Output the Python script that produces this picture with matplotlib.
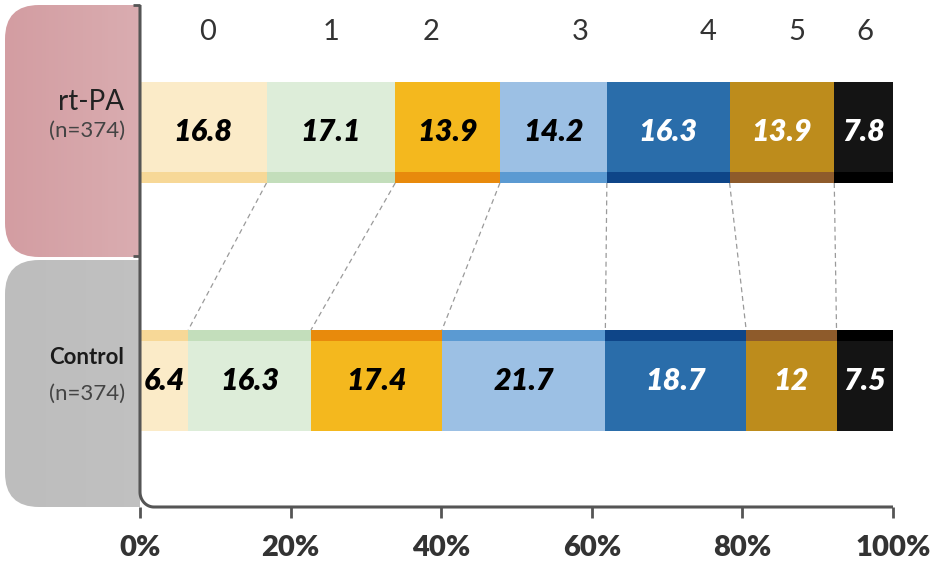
import numpy as np
import matplotlib.pyplot as plt
from matplotlib.patches import FancyBboxPatch
from matplotlib.colors import LinearSegmentedColormap

groups = ["rt-PA", "Control"]
group_n = ["(n=374)", "(n=374)"]
rtpa = [16.8, 17.1, 13.9, 14.2, 16.3, 13.9, 7.8]
control = [6.4, 16.3, 17.4, 21.7, 18.7, 12, 7.5]
scores = ["0", "1", "2", "3", "4", "5", "6"]
score_pos = [9.0, 25.4, 38.6, 58.4, 75.5, 87.2, 96.3]
xticks = [0, 20, 40, 60, 80, 100]

main_colors = ["#FBEBC8", "#DDEDD9", "#F4B81E", "#9CC0E4", "#2A6DAA", "#BD8C1C", "#141414"]
strip_colors = ["#F7D897", "#C3DEBB", "#E88A0C", "#5B9AD2", "#0E4588", "#8E5B2B", "#000000"]
text_colors = ["black", "black", "black", "black", "white", "white", "white"]

W, H = 933, 574
fig = plt.figure(figsize=(W / 100, H / 100), dpi=100)

# background axes for the group boxes
bg = fig.add_axes([0, 0, 1, 1])
bg.set_xlim(0, W)
bg.set_ylim(H, 0)
bg.axis("off")


def side_box(y0, y1, cleft, cright):
    box = FancyBboxPatch((5, y0), 200, y1 - y0, boxstyle="round,pad=0,rounding_size=34",
                         facecolor="none", edgecolor="none")
    bg.add_patch(box)
    grad = np.linspace(0, 1, 64).reshape(1, -1)
    cmap = LinearSegmentedColormap.from_list("g", [cleft, cright])
    im = bg.imshow(grad, extent=(5, 205, y1, y0), aspect="auto", cmap=cmap, zorder=1)
    im.set_clip_path(box)


side_box(5, 257, "#D39DA2", "#DDB4B7")
side_box(260, 507, "#BDBDBD", "#C2C2C2")
bg.set_xlim(0, W)
bg.set_ylim(H, 0)

bg.text(124, 102, groups[0], ha="right", va="center", fontsize=20, color="#222222",
        family="Lato")
bg.text(125, 131, group_n[0], ha="right", va="center", fontsize=16, color="#444444",
        family="Lato")
bg.text(124, 358, groups[1], ha="right", va="center", fontsize=16, color="#1a1a1a",
        family="Lato", fontweight="bold")
bg.text(125, 394, group_n[1], ha="right", va="center", fontsize=16, color="#444444",
        family="Lato")

# main chart axes
ax = fig.add_axes([140 / W, 1 - 507 / H, 753 / W, 502 / H])
ax.set_facecolor("white")
ax.set_xlim(0, 100)
ax.set_ylim(-0.51, 1.514)

bar_h = 0.407
strip_h = 0.045
ypos = [1, 0]
for row, (vals, y) in enumerate(zip([rtpa, control], ypos)):
    left = 0
    for i, v in enumerate(vals):
        ax.barh(y, v, left=left, height=bar_h, color=main_colors[i], edgecolor="none", zorder=2)
        if row == 0:
            sy = y - bar_h / 2 + strip_h / 2
        else:
            sy = y + bar_h / 2 - strip_h / 2
        ax.barh(sy, v, left=left, height=strip_h, color=strip_colors[i], edgecolor="none", zorder=3)
        label = f"{v:g}"
        ax.text(left + v / 2, y, label, ha="center", va="center", fontsize=22,
                family="Lato", fontweight="heavy", fontstyle="italic",
                color=text_colors[i], zorder=4)
        left += v

# dashed connectors between category boundaries
cum_r = np.cumsum(rtpa)[:-1]
cum_c = np.cumsum(control)[:-1]
for a, b in zip(cum_r, cum_c):
    ax.plot([a, b], [1 - bar_h / 2, bar_h / 2], color="#9A9A9A", lw=0.9,
            linestyle=(0, (4, 3)), zorder=1)

# score labels on top
for s, p in zip(scores, score_pos):
    ax.text(p, 1.405, s, ha="center", va="center", fontsize=21, color="#333333",
            family="Lato")

# spines: left + bottom with rounded corner
for sp in ax.spines.values():
    sp.set_visible(False)
r = 0.03
theta = np.linspace(np.pi, 1.5 * np.pi, 24)
rx = r * H / W
cx = rx + rx * np.cos(theta)
cy = r + r * np.sin(theta)
xs = np.concatenate([[0], cx, [1]])
ys = np.concatenate([[1], cy, [0]])
ax.plot(xs, ys, transform=ax.transAxes, color="#555555", lw=2.2, clip_on=False, zorder=5,
        solid_capstyle="butt")

ax.set_xticks(xticks)
ax.set_xticklabels([f"{t}%" for t in xticks])
ax.tick_params(axis="x", direction="out", length=8, width=2, color="#555555", pad=12,
               labelsize=21, labelcolor="#333333")
for lbl in ax.get_xticklabels():
    lbl.set_fontweight("heavy")
    lbl.set_family("Lato")
ax.set_yticks([0.5, 1.514])
ax.set_yticklabels([])
ax.tick_params(axis="y", direction="out", length=5, width=2, color="#555555")

fig.savefig("out.png", dpi=100)
